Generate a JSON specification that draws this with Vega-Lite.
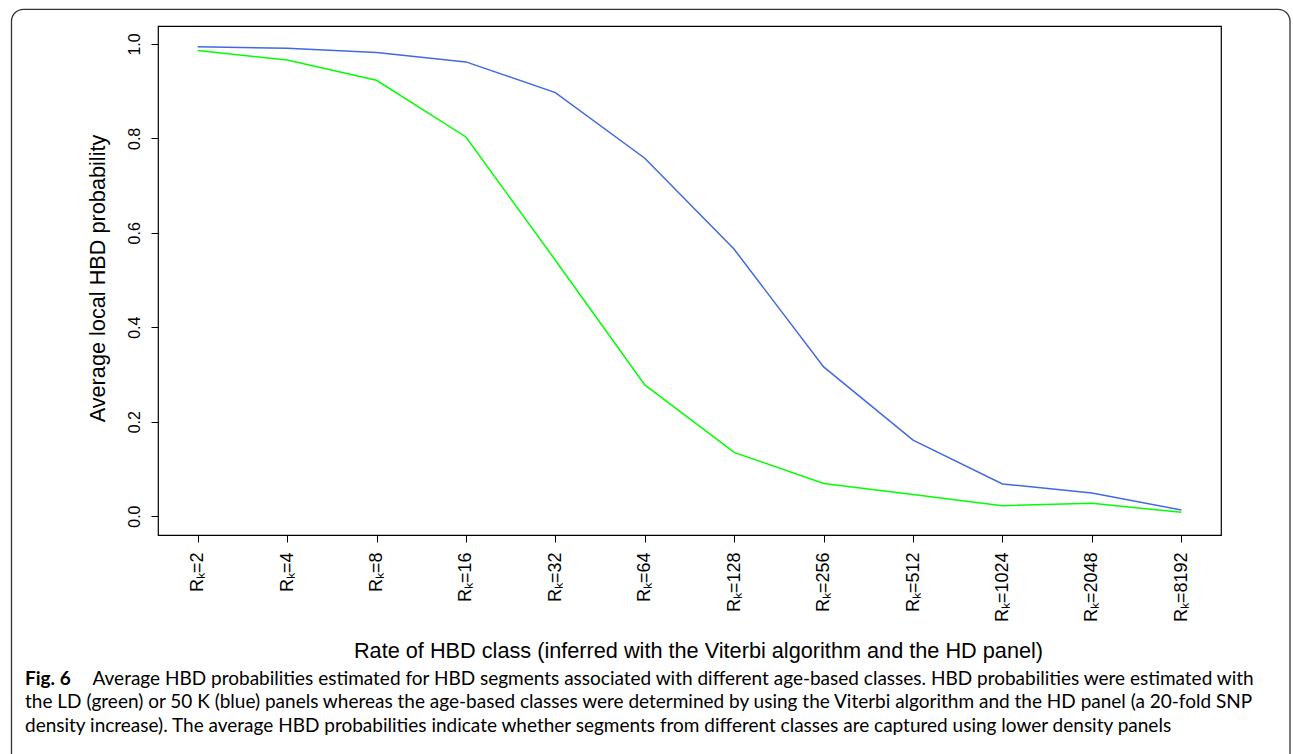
{
  "$schema": "https://vega.github.io/schema/vega-lite/v6.json",
  "width": 1063,
  "height": 509,
  "autosize": {"type": "none"},
  "padding": {"left": 158, "top": 26, "right": 72, "bottom": 219},
  "background": "white",
  "config": {
    "view": {"stroke": "black", "strokeWidth": 1.2},
    "axis": {
      "labelFont": "Liberation Sans",
      "titleFont": "Liberation Sans",
      "labelColor": "black",
      "titleColor": "black",
      "tickColor": "black",
      "domain": false,
      "grid": false,
      "titleFontWeight": "normal"
    }
  },
  "title": {
    "text": "Fig. 6",
    "subtitle": [
      "\u200b\u00a0\u00a0\u00a0\u00a0\u00a0\u00a0\u00a0\u00a0\u00a0\u00a0\u00a0\u00a0\u00a0\u00a0Average HBD probabilities estimated for HBD segments associated with different age-based classes. HBD probabilities were estimated with",
      "the LD (green) or 50 K (blue) panels whereas the age-based classes were determined by using the Viterbi algorithm and the HD panel (a 20-fold SNP",
      "density increase). The average HBD probabilities indicate whether segments from different classes are captured using lower density panels"
    ],
    "orient": "bottom",
    "anchor": "start",
    "frame": "group",
    "dx": -133,
    "offset": -97,
    "font": "Lato",
    "fontSize": 19,
    "fontWeight": "bold",
    "color": "black",
    "subtitleFont": "Lato",
    "subtitleFontSize": 19,
    "subtitleColor": "black",
    "subtitleLineHeight": 23.5,
    "subtitlePadding": -19
  },
  "datasets": {
    "probs": [
      {"cls": "Rₖ=2", "panel": "50K", "p": 0.994},
      {"cls": "Rₖ=4", "panel": "50K", "p": 0.991},
      {"cls": "Rₖ=8", "panel": "50K", "p": 0.982},
      {"cls": "Rₖ=16", "panel": "50K", "p": 0.962},
      {"cls": "Rₖ=32", "panel": "50K", "p": 0.897},
      {"cls": "Rₖ=64", "panel": "50K", "p": 0.758},
      {"cls": "Rₖ=128", "panel": "50K", "p": 0.565},
      {"cls": "Rₖ=256", "panel": "50K", "p": 0.316},
      {"cls": "Rₖ=512", "panel": "50K", "p": 0.161},
      {"cls": "Rₖ=1024", "panel": "50K", "p": 0.068},
      {"cls": "Rₖ=2048", "panel": "50K", "p": 0.049},
      {"cls": "Rₖ=8192", "panel": "50K", "p": 0.013},
      {"cls": "Rₖ=2", "panel": "LD", "p": 0.986},
      {"cls": "Rₖ=4", "panel": "LD", "p": 0.966},
      {"cls": "Rₖ=8", "panel": "LD", "p": 0.923},
      {"cls": "Rₖ=16", "panel": "LD", "p": 0.803},
      {"cls": "Rₖ=32", "panel": "LD", "p": 0.542},
      {"cls": "Rₖ=64", "panel": "LD", "p": 0.278},
      {"cls": "Rₖ=128", "panel": "LD", "p": 0.135},
      {"cls": "Rₖ=256", "panel": "LD", "p": 0.069},
      {"cls": "Rₖ=512", "panel": "LD", "p": 0.046},
      {"cls": "Rₖ=1024", "panel": "LD", "p": 0.022},
      {"cls": "Rₖ=2048", "panel": "LD", "p": 0.027},
      {"cls": "Rₖ=8192", "panel": "LD", "p": 0.008}
    ]
  },
  "layer": [
    {
      "data": {"values": [{}]},
      "mark": {"type": "rect", "fill": null, "stroke": "#333333", "strokeWidth": 1.3, "cornerRadius": 12, "clip": false},
      "encoding": {
        "x": {"value": -146.5},
        "x2": {"value": 1132},
        "y": {"value": -16.7},
        "y2": {"value": 740}
      }
    },
    {
      "data": {"name": "probs"},
      "mark": {"type": "line", "strokeWidth": 1.5},
      "encoding": {
        "x": {
          "field": "cls",
          "type": "ordinal",
          "sort": null,
          "scale": {"type": "point", "padding": 0.4435},
          "axis": {
            "title": "Rate of HBD class (inferred with the Viterbi algorithm and the HD panel)",
            "titleFontSize": 21.7,
            "titleX": 540,
            "titleY": 122,
            "titleAlign": "center",
            "titleBaseline": "alphabetic",
            "labelAngle": 270,
            "labelAlign": "right",
            "labelBaseline": "middle",
            "labelFontSize": 18,
            "labelPadding": 10,
            "tickSize": 7
          }
        },
        "y": {
          "field": "p",
          "type": "quantitative",
          "scale": {"domain": [-0.04, 1.038], "nice": false, "zero": false},
          "axis": {
            "title": "Average local HBD probability",
            "titleFontSize": 21.7,
            "titleAngle": 270,
            "titleX": -54,
            "titleY": 252,
            "titleAlign": "center",
            "titleBaseline": "alphabetic",
            "values": [0, 0.2, 0.4, 0.6, 0.8, 1.0],
            "format": ".1f",
            "labelAngle": 270,
            "labelAlign": "center",
            "labelBaseline": "bottom",
            "labelFontSize": 16,
            "labelPadding": 9,
            "tickSize": 7
          }
        },
        "color": {
          "field": "panel",
          "type": "nominal",
          "scale": {"domain": ["50K", "LD"], "range": ["#4169e1", "#00ff00"]},
          "legend": null
        }
      }
    }
  ]
}
